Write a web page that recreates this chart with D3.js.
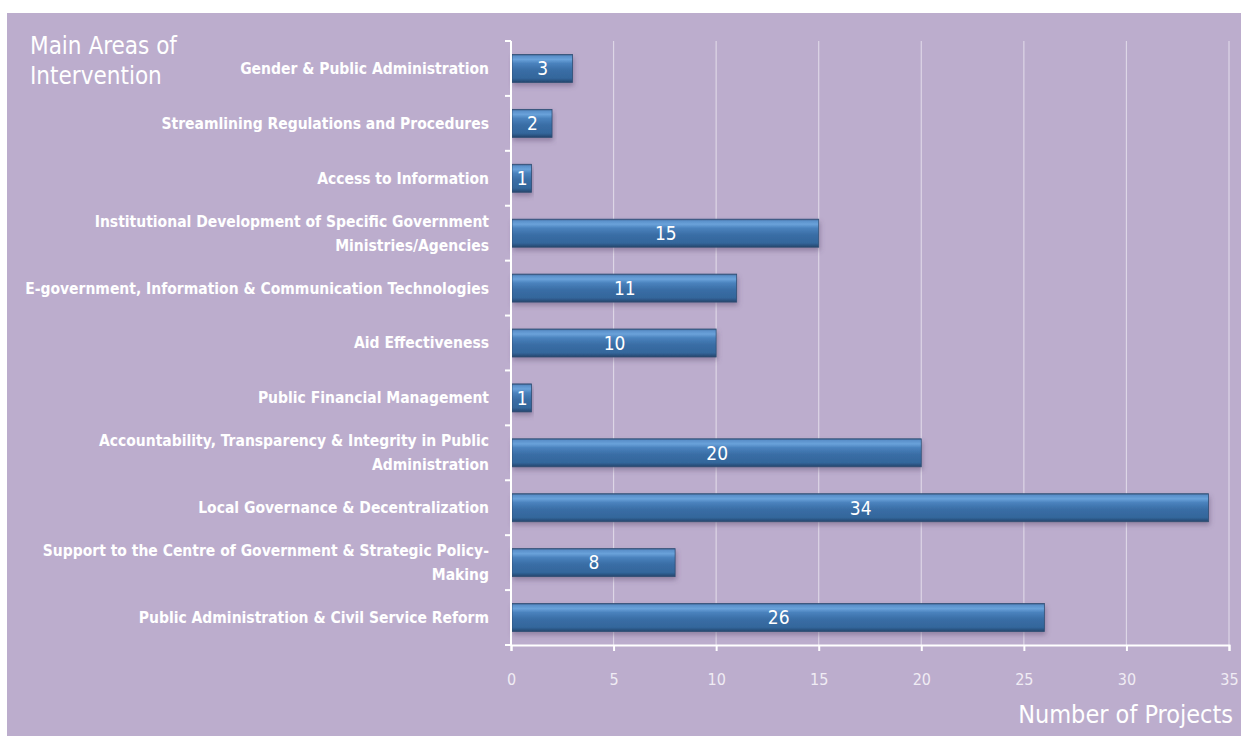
<!DOCTYPE html>
<html><head><meta charset="utf-8">
<script src="https://cdn.jsdelivr.net/npm/d3@7"></script>
<style>
html,body{margin:0;padding:0;background:#fff;}
svg{display:block;}
text{font-family:"DejaVu Sans Condensed","Liberation Sans Narrow","Open Sans",sans-serif;}
</style></head>
<body>
<script>
const categories = [
  ["Gender & Public Administration"],
  ["Streamlining Regulations and Procedures"],
  ["Access to Information"],
  ["Institutional Development of Specific Government", "Ministries/Agencies"],
  ["E-government, Information & Communication Technologies"],
  ["Aid Effectiveness"],
  ["Public Financial Management"],
  ["Accountability, Transparency & Integrity in Public", "Administration"],
  ["Local Governance & Decentralization"],
  ["Support to the Centre of Government & Strategic Policy-", "Making"],
  ["Public Administration & Civil Service Reform"]
];
const values = [3, 2, 1, 15, 11, 10, 1, 20, 34, 8, 26];
const xTicks = [0, 5, 10, 15, 20, 25, 30, 35];
const titleLines = ["Main Areas of", "Intervention"];
const xTitle = "Number of Projects";

const W = 1241, H = 736;
const svg = d3.select("body").append("svg").attr("width", W).attr("height", H);
const defs = svg.append("defs");
const g1 = defs.append("linearGradient").attr("id","barGrad").attr("x1",0).attr("y1",0).attr("x2",0).attr("y2",1);
[[0,"#3a5b86"],[0.06,"#5a90ca"],[0.18,"#6aa2da"],[0.32,"#4a82bd"],[0.55,"#3a6ea6"],[0.85,"#33669b"],[0.93,"#2b5482"],[1,"#26456a"]]
  .forEach(([o,c])=>g1.append("stop").attr("offset",o).attr("stop-color",c));
const f = defs.append("filter").attr("id","shadow").attr("x","-5%").attr("y","-20%").attr("width","115%").attr("height","160%");
f.append("feDropShadow").attr("dx",1).attr("dy",3).attr("stdDeviation",2.5).attr("flood-color","#5a4a70").attr("flood-opacity",0.45);

svg.append("rect").attr("x",7).attr("y",13).attr("width",W-7).attr("height",H-13).attr("fill","#bcadcd");

const x = d3.scaleLinear().domain([0,35]).range([511,1229]);
const y = d3.scaleBand().domain(d3.range(categories.length)).range([41,645]).paddingInner(0.49).paddingOuter(0.245);
const yOuter = d3.scaleBand().domain(d3.range(categories.length)).range([41,645]);

// grid
svg.append("g").selectAll("line").data(xTicks.filter(d=>d>0)).join("line")
  .attr("x1",d=>x(d)).attr("x2",d=>x(d)).attr("y1",41).attr("y2",645)
  .attr("stroke","#ddd6e6").attr("stroke-width",1.2);

// bars
const bars = svg.append("g");
bars.selectAll("rect").data(values).join("rect")
  .attr("x",x(0)+1).attr("y",(d,i)=>y(i))
  .attr("width",d=>x(d)-x(0)-1).attr("height",y.bandwidth())
  .attr("fill","url(#barGrad)").attr("stroke","#2f4f75").attr("stroke-width",0.8)
  .attr("filter","url(#shadow)");
bars.selectAll("text").data(values).join("text")
  .attr("x",d=>(x(d)+x(0))/2+1).attr("y",(d,i)=>y(i)+y.bandwidth()/2)
  .attr("dy","0.36em").attr("text-anchor","middle")
  .attr("fill","#fff").attr("font-size",19).text(d=>d);

// x axis
const xAxis = svg.append("g").attr("transform","translate(0,645)")
  .call(d3.axisBottom(x).tickValues(xTicks).tickSize(6).tickPadding(23));
xAxis.select(".domain").attr("stroke","#fff").attr("stroke-width",2);
xAxis.selectAll(".tick line").attr("stroke","#fff").attr("stroke-width",2);
xAxis.selectAll(".tick text").attr("fill","#f0ecf4").attr("font-size",16).attr("font-family",null);

// y axis
const yAx = svg.append("g");
yAx.append("line").attr("x1",511).attr("x2",511).attr("y1",41).attr("y2",646).attr("stroke","#fff").attr("stroke-width",2);
yAx.selectAll("line.t").data(d3.range(categories.length+1)).join("line").attr("class","t")
  .attr("x1",505).attr("x2",511)
  .attr("y1",i=>41+i*yOuter.step()).attr("y2",i=>41+i*yOuter.step())
  .attr("stroke","#fff").attr("stroke-width",2);

// category labels
const lab = svg.append("g");
categories.forEach((lines,i)=>{
  const cy = yOuter(i)+yOuter.bandwidth()/2;
  const lh = 24;
  const t = lab.append("text").attr("text-anchor","end").attr("fill","#fff").attr("font-size",15.5).attr("font-weight","bold");
  lines.forEach((s,k)=>{
    t.append("tspan").attr("x",489).attr("y",cy + (k-(lines.length-1)/2)*lh).attr("dy","0.35em").text(s);
  });
});

// title
const tt = svg.append("text").attr("fill","#fff").attr("font-size",24);
titleLines.forEach((s,k)=>tt.append("tspan").attr("x",30).attr("y",54+k*30).text(s));

svg.append("text").attr("x",1233).attr("y",723).attr("text-anchor","end")
  .attr("fill","#fff").attr("font-size",25).text(xTitle);
</script>
</body></html>
